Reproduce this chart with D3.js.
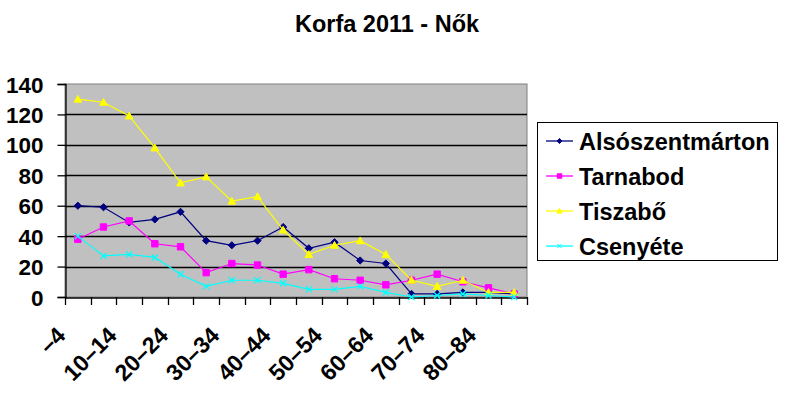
<!DOCTYPE html>
<html>
<head>
<meta charset="utf-8">
<script src="https://cdn.jsdelivr.net/npm/d3@7"></script>
<style>
  html, body { margin: 0; padding: 0; background: #fff; }
  svg { display: block; font-family: "Liberation Sans", Arial, sans-serif; }
</style>
</head>
<body>
<svg id="chart" width="788" height="417"></svg>
<script>
const title = "Korfa 2011 - Nők";
const categories = ["–4","5–9","10–14","15–19","20–24","25–29","30–34","35–39","40–44","45–49","50–54","55–59","60–64","65–69","70–74","75–79","80–84","85–89"];
const shownLabels = ["–4","10–14","20–24","30–34","40–44","50–54","60–64","70–74","80–84"];
const seriesNames = ["Alsószentmárton","Tarnabod","Tiszabő","Csenyéte"];
const alsoszentmarton = [60,59,49,51,56,37,34,37,46,32,36,24,22,2,2,3,3,2];
const tarnabod       = [38,46,50,35,33,16,22,21,15,18,12,11,8,11,15,10,6,2];
const tiszabo        = [130,128,119,98,75,79,63,66,44,28,34,37,28,11,7,11,3,3];
const csenyete       = [40,27,28,26,15,7,11,11,9,5,5,7,3,0,1,2,1,0];
const yTicks = [0,20,40,60,80,100,120,140];

const seriesData = [alsoszentmarton, tarnabod, tiszabo, csenyete];
const colors = ["#000080","#FF00FF","#FFFF00","#00FFFF"];
const markers = ["diamond","square","triangle","cross"];

const svg = d3.select("#chart");
const plot = {left: 65, top: 84, right: 527, bottom: 297};

const x = d3.scaleBand().domain(categories).range([plot.left, plot.right]).paddingInner(0).paddingOuter(0);
const y = d3.scaleLinear().domain([0,140]).range([plot.bottom, plot.top]);
const cx = c => x(c) + x.bandwidth()/2;

// title
svg.append("text").attr("x", 387).attr("y", 32).attr("text-anchor","middle")
  .attr("font-size", 23.5).attr("font-weight","bold").text(title);

// plot area
svg.append("rect").attr("x", plot.left).attr("y", plot.top)
  .attr("width", plot.right-plot.left).attr("height", plot.bottom-plot.top)
  .attr("fill","#C0C0C0").attr("stroke","#808080").attr("stroke-width",1);

// gridlines
svg.append("g").selectAll("line").data(yTicks.filter(v => v>0 && v<140)).join("line")
  .attr("x1", plot.left).attr("x2", plot.right)
  .attr("y1", d => Math.round(y(d))+0.5).attr("y2", d => Math.round(y(d))+0.5)
  .attr("stroke","#000").attr("stroke-width",1.3);

// y axis
const yAxis = d3.axisLeft(y).tickValues(yTicks).tickSize(8).tickPadding(14).tickFormat(d3.format("d"));
const gy = svg.append("g").attr("transform", `translate(${plot.left+0.5},0)`).call(yAxis);
gy.select(".domain").attr("stroke","#000").attr("stroke-width",1.3);
gy.selectAll(".tick line").attr("stroke","#000").attr("stroke-width",1.3);
gy.selectAll(".tick text").attr("font-size",22.5).attr("font-weight","bold")
  .attr("font-family","'Liberation Sans', Arial, sans-serif").attr("fill","#000").attr("dy","0.36em");

// x axis
const xAxis = d3.axisBottom(x).tickSize(0).tickFormat("");
const gx = svg.append("g").attr("transform", `translate(0,${plot.bottom+0.5})`).call(xAxis);
gx.select(".domain").attr("stroke","#000").attr("stroke-width",1.3);
// tick marks between categories
const bounds = categories.map(c => x(c)).concat([plot.right]);
svg.append("g").selectAll("line").data(bounds).join("line")
  .attr("x1", d => Math.round(d)+0.5).attr("x2", d => Math.round(d)+0.5)
  .attr("y1", plot.bottom).attr("y2", plot.bottom+8)
  .attr("stroke","#000").attr("stroke-width",1.3);
// x labels (every other)
svg.append("g").selectAll("text").data(shownLabels).join("text")
  .attr("transform", d => `translate(${cx(d)-11},${plot.bottom+40}) rotate(-45)`)
  .attr("text-anchor","end").attr("font-size",23).attr("font-weight","bold")
  .text(d => d);

// marker generator
function markerPath(type, s) {
  switch(type) {
    case "diamond": return `M0,${-3.6*s}L${3.6*s},0L0,${3.6*s}L${-3.6*s},0Z`;
    case "square": return `M${-3.2*s},${-3.2*s}h${6.4*s}v${6.4*s}h${-6.4*s}Z`;
    case "triangle": return `M0,${-3.8*s}L${3.8*s},${3*s}L${-3.8*s},${3*s}Z`;
    case "cross": return `M${-3*s},${-3*s}L${3*s},${3*s}M${-3*s},${3*s}L${3*s},${-3*s}`;
  }
}

const line = d3.line().x((d,i) => cx(categories[i])).y(d => y(d));

seriesData.forEach((vals, si) => {
  const g = svg.append("g");
  g.append("path").datum(vals).attr("d", line).attr("fill","none")
    .attr("stroke", colors[si]).attr("stroke-width",1.2);
  g.selectAll("path.m").data(vals).join("path").attr("class","m")
    .attr("transform", (d,i) => `translate(${cx(categories[i])},${y(d)})`)
    .attr("d", markerPath(markers[si], 1))
    .attr("fill", markers[si]==="cross" ? "none" : colors[si])
    .attr("stroke", colors[si]).attr("stroke-width", markers[si]==="cross" ? 1.3 : 1);
});

// legend
const lg = svg.append("g");
lg.append("rect").attr("x", 537.5).attr("y", 122.5).attr("width", 240).attr("height", 138)
  .attr("fill","#fff").attr("stroke","#000").attr("stroke-width",1);
seriesNames.forEach((name, i) => {
  const ry = 141 + i*35;
  lg.append("line").attr("x1",546).attr("x2",573).attr("y1",ry).attr("y2",ry)
    .attr("stroke", colors[i]).attr("stroke-width",1.3);
  lg.append("path").attr("transform", `translate(559.5,${ry})`)
    .attr("d", markerPath(markers[i], 0.7))
    .attr("fill", markers[i]==="cross" ? "none" : colors[i])
    .attr("stroke", colors[i]).attr("stroke-width",1);
  lg.append("text").attr("x",579).attr("y", ry+8.5).attr("font-size",23.5).attr("font-weight","bold").text(name);
});
</script>
</body>
</html>
